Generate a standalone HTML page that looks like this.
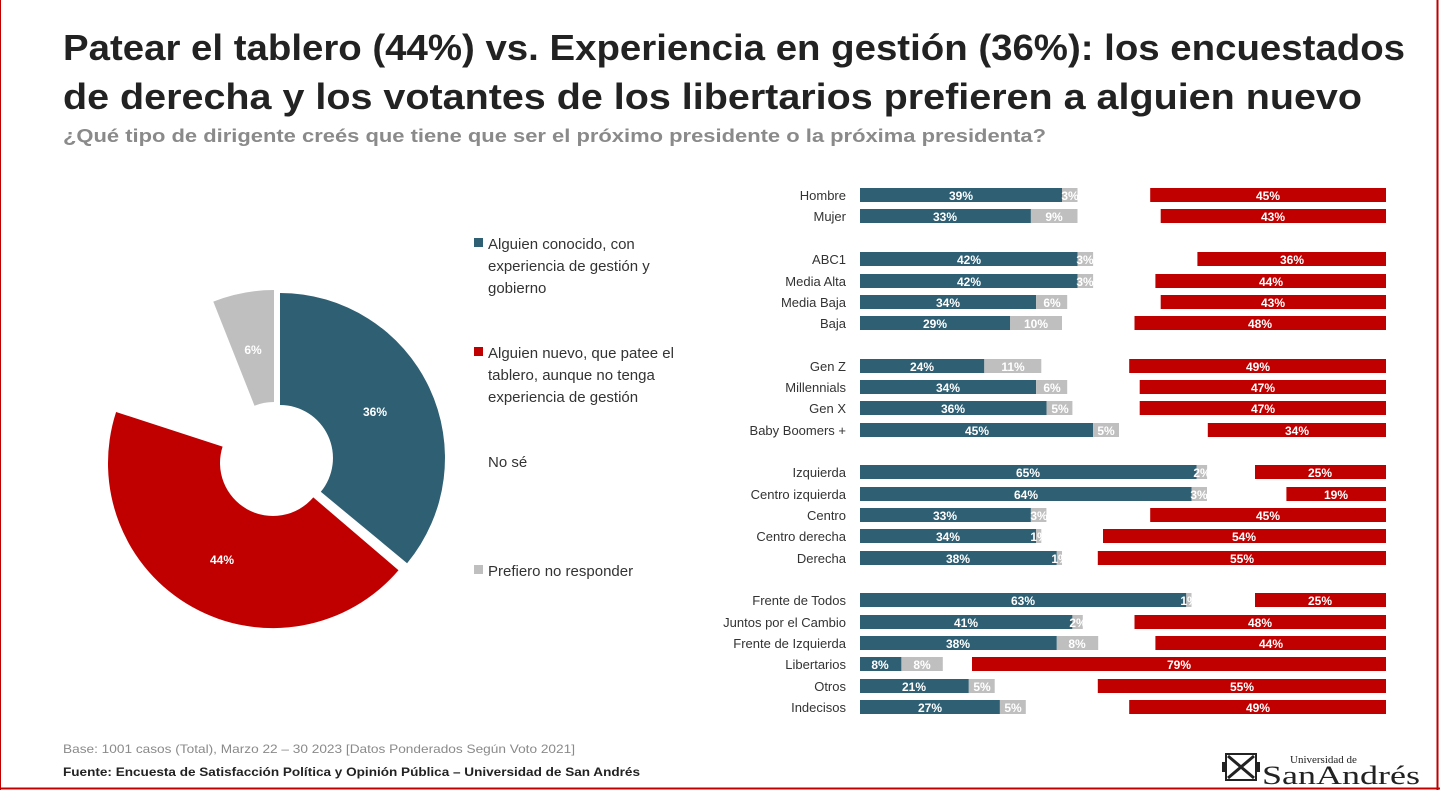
<!DOCTYPE html>
<html><head><meta charset="utf-8"><style>
html,body{margin:0;padding:0;background:#fff;}
svg{display:block;font-family:"Liberation Sans",sans-serif;}
</style></head><body>
<svg width="1440" height="790" viewBox="0 0 1440 790" xmlns="http://www.w3.org/2000/svg">
<rect x="0" y="0" width="1440" height="790" fill="#fff"/>
<line x1="1437.5" y1="0" x2="1437.5" y2="790" stroke="#c00000" stroke-width="2"/>
<line x1="0" y1="788.5" x2="1440" y2="788.5" stroke="#c00000" stroke-width="2"/>
<line x1="0.5" y1="0" x2="0.5" y2="790" stroke="#c00000" stroke-width="1"/>

<text x="63" y="60" font-size="36" font-weight="bold" fill="#222" textLength="1342" lengthAdjust="spacingAndGlyphs">Patear el tablero (44%) vs. Experiencia en gestión (36%): los encuestados</text>
<text x="63" y="109" font-size="36" font-weight="bold" fill="#222" textLength="1299" lengthAdjust="spacingAndGlyphs">de derecha y los votantes de los libertarios prefieren a alguien nuevo</text>
<text x="63" y="142" font-size="18" font-weight="bold" fill="#8a8a8a" textLength="983" lengthAdjust="spacingAndGlyphs">¿Qué tipo de dirigente creés que tiene que ser el próximo presidente o la próxima presidenta?</text>

<!-- donut -->
<path d="M280,293 A165,165 0 0 1 407.1,563.2 L320.8,491.8 A53,53 0 0 0 280,405 Z" fill="#2e5f73"/>
<path d="M398.5,570.2 A165,165 0 0 1 116.1,412 L222.6,446.6 A53,53 0 0 0 313.3,497.4 Z" fill="#c00000"/>
<path d="M213.3,301.6 A165,165 0 0 1 274,290 L274,402 A53,53 0 0 0 254.5,405.7 Z" fill="#bfbfbf"/>
<g font-size="12" font-weight="bold" fill="#fff" text-anchor="middle">
<text x="375" y="416">36%</text>
<text x="222" y="564">44%</text>
<text x="253" y="354">6%</text>
</g>

<!-- legend -->
<g font-size="15" fill="#333">
<rect x="474" y="238" width="9" height="9" fill="#2e5f73"/>
<text x="488" y="249">Alguien conocido, con</text>
<text x="488" y="271">experiencia de gestión y</text>
<text x="488" y="293">gobierno</text>
<rect x="474" y="347" width="9" height="9" fill="#c00000"/>
<text x="488" y="358">Alguien nuevo, que patee el</text>
<text x="488" y="380">tablero, aunque no tenga</text>
<text x="488" y="402">experiencia de gestión</text>
<text x="488" y="467">No sé</text>
<rect x="474" y="565" width="9" height="9" fill="#bfbfbf"/>
<text x="488" y="576">Prefiero no responder</text>
</g>

<!-- bars -->
<g font-size="13" fill="#333" text-anchor="end">
<text x="846" y="200">Hombre</text>
<text x="846" y="221">Mujer</text>
<text x="846" y="264">ABC1</text>
<text x="846" y="286">Media Alta</text>
<text x="846" y="307">Media Baja</text>
<text x="846" y="328">Baja</text>
<text x="846" y="371">Gen Z</text>
<text x="846" y="392">Millennials</text>
<text x="846" y="413">Gen X</text>
<text x="846" y="435">Baby Boomers +</text>
<text x="846" y="477">Izquierda</text>
<text x="846" y="499">Centro izquierda</text>
<text x="846" y="520">Centro</text>
<text x="846" y="541">Centro derecha</text>
<text x="846" y="563">Derecha</text>
<text x="846" y="605">Frente de Todos</text>
<text x="846" y="627">Juntos por el Cambio</text>
<text x="846" y="648">Frente de Izquierda</text>
<text x="846" y="669">Libertarios</text>
<text x="846" y="691">Otros</text>
<text x="846" y="712">Indecisos</text>
</g>

<g>
<!-- teal -->
<g fill="#2e5f73">
<rect x="860" y="188" width="202" height="14"/>
<rect x="860" y="209" width="170.9" height="14"/>
<rect x="860" y="252" width="217.6" height="14"/>
<rect x="860" y="274" width="217.6" height="14"/>
<rect x="860" y="295" width="176.1" height="14"/>
<rect x="860" y="316" width="150.2" height="14"/>
<rect x="860" y="359" width="124.3" height="14"/>
<rect x="860" y="380" width="176.1" height="14"/>
<rect x="860" y="401" width="186.5" height="14"/>
<rect x="860" y="423" width="233.1" height="14"/>
<rect x="860" y="465" width="336.7" height="14"/>
<rect x="860" y="487" width="331.5" height="14"/>
<rect x="860" y="508" width="170.9" height="14"/>
<rect x="860" y="529" width="176.1" height="14"/>
<rect x="860" y="551" width="196.8" height="14"/>
<rect x="860" y="593" width="326.3" height="14"/>
<rect x="860" y="615" width="212.4" height="14"/>
<rect x="860" y="636" width="196.8" height="14"/>
<rect x="860" y="657" width="41.4" height="14"/>
<rect x="860" y="679" width="108.8" height="14"/>
<rect x="860" y="700" width="139.9" height="14"/>
</g>
<!-- grey -->
<g fill="#bfbfbf">
<rect x="1062" y="188" width="15.5" height="14"/>
<rect x="1030.9" y="209" width="46.6" height="14"/>
<rect x="1077.6" y="252" width="15.5" height="14"/>
<rect x="1077.6" y="274" width="15.5" height="14"/>
<rect x="1036.1" y="295" width="31.1" height="14"/>
<rect x="1010.2" y="316" width="51.8" height="14"/>
<rect x="984.3" y="359" width="57" height="14"/>
<rect x="1036.1" y="380" width="31.1" height="14"/>
<rect x="1046.5" y="401" width="25.9" height="14"/>
<rect x="1093.1" y="423" width="25.9" height="14"/>
<rect x="1196.7" y="465" width="10.4" height="14"/>
<rect x="1191.5" y="487" width="15.5" height="14"/>
<rect x="1030.9" y="508" width="15.5" height="14"/>
<rect x="1036.1" y="529" width="5.2" height="14"/>
<rect x="1056.8" y="551" width="5.2" height="14"/>
<rect x="1186.3" y="593" width="5.2" height="14"/>
<rect x="1072.4" y="615" width="10.4" height="14"/>
<rect x="1056.8" y="636" width="41.4" height="14"/>
<rect x="901.4" y="657" width="41.4" height="14"/>
<rect x="968.8" y="679" width="25.9" height="14"/>
<rect x="999.9" y="700" width="25.9" height="14"/>
</g>
<!-- red -->
<g fill="#c00000">
<rect x="1150.2" y="188" width="235.8" height="14"/>
<rect x="1160.7" y="209" width="225.3" height="14"/>
<rect x="1197.4" y="252" width="188.6" height="14"/>
<rect x="1155.4" y="274" width="230.6" height="14"/>
<rect x="1160.7" y="295" width="225.3" height="14"/>
<rect x="1134.5" y="316" width="251.5" height="14"/>
<rect x="1129.2" y="359" width="256.8" height="14"/>
<rect x="1139.7" y="380" width="246.3" height="14"/>
<rect x="1139.7" y="401" width="246.3" height="14"/>
<rect x="1207.8" y="423" width="178.2" height="14"/>
<rect x="1255" y="465" width="131" height="14"/>
<rect x="1286.4" y="487" width="99.6" height="14"/>
<rect x="1150.2" y="508" width="235.8" height="14"/>
<rect x="1103" y="529" width="283" height="14"/>
<rect x="1097.8" y="551" width="288.2" height="14"/>
<rect x="1255" y="593" width="131" height="14"/>
<rect x="1134.5" y="615" width="251.5" height="14"/>
<rect x="1155.4" y="636" width="230.6" height="14"/>
<rect x="972" y="657" width="414" height="14"/>
<rect x="1097.8" y="679" width="288.2" height="14"/>
<rect x="1129.2" y="700" width="256.8" height="14"/>
</g>
<!-- values -->
<g font-size="12" font-weight="bold" fill="#fff" text-anchor="middle">
<text x="961" y="200">39%</text><text x="1070" y="200">3%</text><text x="1268" y="200">45%</text>
<text x="945" y="221">33%</text><text x="1054" y="221">9%</text><text x="1273" y="221">43%</text>
<text x="969" y="264">42%</text><text x="1085" y="264">3%</text><text x="1292" y="264">36%</text>
<text x="969" y="286">42%</text><text x="1085" y="286">3%</text><text x="1271" y="286">44%</text>
<text x="948" y="307">34%</text><text x="1052" y="307">6%</text><text x="1273" y="307">43%</text>
<text x="935" y="328">29%</text><text x="1036" y="328">10%</text><text x="1260" y="328">48%</text>
<text x="922" y="371">24%</text><text x="1013" y="371">11%</text><text x="1258" y="371">49%</text>
<text x="948" y="392">34%</text><text x="1052" y="392">6%</text><text x="1263" y="392">47%</text>
<text x="953" y="413">36%</text><text x="1060" y="413">5%</text><text x="1263" y="413">47%</text>
<text x="977" y="435">45%</text><text x="1106" y="435">5%</text><text x="1297" y="435">34%</text>
<text x="1028" y="477">65%</text><text x="1202" y="477">2%</text><text x="1320" y="477">25%</text>
<text x="1026" y="499">64%</text><text x="1199" y="499">3%</text><text x="1336" y="499">19%</text>
<text x="945" y="520">33%</text><text x="1039" y="520">3%</text><text x="1268" y="520">45%</text>
<text x="948" y="541">34%</text><text x="1039" y="541">1%</text><text x="1244" y="541">54%</text>
<text x="958" y="563">38%</text><text x="1060" y="563">1%</text><text x="1242" y="563">55%</text>
<text x="1023" y="605">63%</text><text x="1189" y="605">1%</text><text x="1320" y="605">25%</text>
<text x="966" y="627">41%</text><text x="1078" y="627">2%</text><text x="1260" y="627">48%</text>
<text x="958" y="648">38%</text><text x="1077" y="648">8%</text><text x="1271" y="648">44%</text>
<text x="880" y="669">8%</text><text x="922" y="669">8%</text><text x="1179" y="669">79%</text>
<text x="914" y="691">21%</text><text x="982" y="691">5%</text><text x="1242" y="691">55%</text>
<text x="930" y="712">27%</text><text x="1013" y="712">5%</text><text x="1258" y="712">49%</text>
</g>
</g>

<!-- footer -->
<text x="63" y="753" font-size="12" fill="#8a8a8a" textLength="512" lengthAdjust="spacingAndGlyphs">Base: 1001 casos (Total), Marzo 22 – 30 2023 [Datos Ponderados Según Voto 2021]</text>
<text x="63" y="776" font-size="12" font-weight="bold" fill="#222" textLength="577" lengthAdjust="spacingAndGlyphs">Fuente: Encuesta de Satisfacción Política y Opinión Pública – Universidad de San Andrés</text>

<!-- logo -->
<g fill="#222">
<rect x="1226" y="754" width="30" height="26" fill="none" stroke="#222" stroke-width="2"/>
<path d="M1228,756 L1254,778 M1254,756 L1228,778" stroke="#222" stroke-width="3"/>
<rect x="1222" y="762" width="4" height="10"/>
<rect x="1256" y="762" width="4" height="10"/>
<text x="1290" y="763" font-family="Liberation Serif,serif" font-size="11">Universidad de</text>
<text x="1262" y="784" font-family="Liberation Serif,serif" font-size="26" textLength="158" lengthAdjust="spacingAndGlyphs">SanAndrés</text>
</g>
</svg>
</body></html>
